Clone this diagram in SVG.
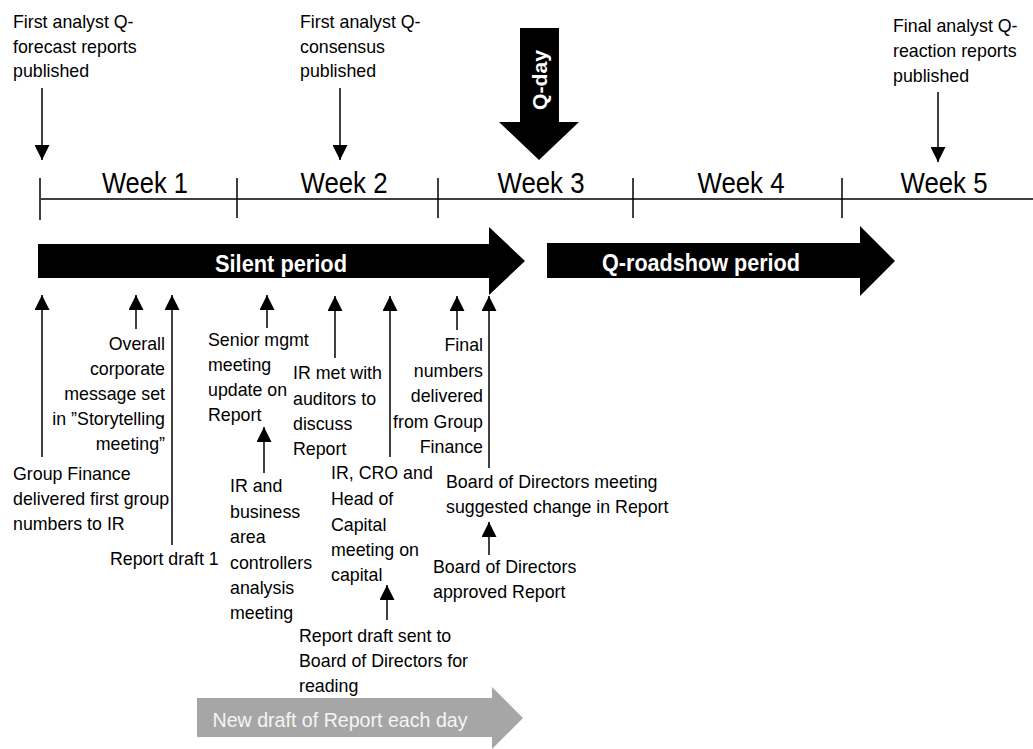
<svg xmlns="http://www.w3.org/2000/svg" width="1033" height="749" viewBox="0 0 1033 749">
<defs>
<marker id="ah" viewBox="0 0 15 15" refX="15" refY="7.5" markerWidth="15" markerHeight="15" markerUnits="userSpaceOnUse" orient="auto">
<path d="M0,0 L15,7.5 L0,15 Z" fill="#000"/>
</marker>
<style>
.t{font-family:"Liberation Sans",Arial,sans-serif;font-size:17.8px;fill:#000}
.e{text-anchor:end}
.wk{font-family:"Liberation Sans",Arial,sans-serif;font-size:29px;fill:#000;text-anchor:middle}
.b{font-family:"Liberation Sans",Arial,sans-serif;font-weight:bold;fill:#fff;text-anchor:middle}
.ln{stroke:#000;stroke-width:1.5;fill:none}
.c{stroke:#000;stroke-width:1.5;fill:none;marker-end:url(#ah)}
</style>
</defs>
<rect width="1033" height="749" fill="#fff"/>

<g id="timeline">
<line class="ln" x1="41" y1="199" x2="1033" y2="199"/>
<line class="ln" x1="40" y1="178" x2="40" y2="220"/>
<line class="ln" x1="237" y1="178" x2="237" y2="218"/>
<line class="ln" x1="438" y1="178" x2="438" y2="218"/>
<line class="ln" x1="633" y1="178" x2="633" y2="218"/>
<line class="ln" x1="842" y1="178" x2="842" y2="218"/>
<text class="wk" x="145" y="193" textLength="86" lengthAdjust="spacingAndGlyphs">Week 1</text>
<text class="wk" x="344" y="193" textLength="87" lengthAdjust="spacingAndGlyphs">Week 2</text>
<text class="wk" x="541" y="193" textLength="87" lengthAdjust="spacingAndGlyphs">Week 3</text>
<text class="wk" x="741" y="193" textLength="87" lengthAdjust="spacingAndGlyphs">Week 4</text>
<text class="wk" x="944" y="193" textLength="87" lengthAdjust="spacingAndGlyphs">Week 5</text>
</g>

<g id="qday">
<polygon points="520,28 559,28 559,122 579,122 539,160 499,122 520,122" fill="#000"/>
<text class="b" transform="translate(547,80) rotate(-90)" x="0" y="0" font-size="21" textLength="60" lengthAdjust="spacingAndGlyphs">Q-day</text>
</g>

<g id="silent">
<polygon points="38,244 489,244 489,227 525,261 489,295 489,278 38,278" fill="#000"/>
<text class="b" x="281" y="272" font-size="23" textLength="132" lengthAdjust="spacingAndGlyphs">Silent period</text>
</g>

<g id="roadshow">
<polygon points="547,243 860,243 860,226 895,261 860,296 860,278 547,278" fill="#000"/>
<text class="b" x="701" y="271" font-size="23" textLength="198" lengthAdjust="spacingAndGlyphs">Q-roadshow period</text>
</g>

<g id="newdraft">
<polygon points="197,698 492,698 492,687 523,718 492,749 492,737 197,737" fill="#a6a6a6"/>
<text x="340" y="727" font-family="Liberation Sans, Arial, sans-serif" font-size="21" fill="#f5f5f5" text-anchor="middle" textLength="255" lengthAdjust="spacingAndGlyphs">New draft of Report each day</text>
</g>

<g id="connectors">
<line class="c" x1="42" y1="88" x2="42" y2="160"/>
<line class="c" x1="340" y1="88" x2="340" y2="160"/>
<line class="c" x1="938" y1="92" x2="938" y2="162"/>
<line class="c" x1="42" y1="457" x2="42" y2="295"/>
<line class="c" x1="136" y1="329" x2="136" y2="295"/>
<line class="c" x1="172" y1="545" x2="172" y2="295"/>
<line class="c" x1="267" y1="328" x2="267" y2="295"/>
<line class="c" x1="264" y1="473" x2="264" y2="427"/>
<line class="c" x1="335" y1="358" x2="335" y2="296"/>
<line class="c" x1="390" y1="457" x2="390" y2="296"/>
<line class="c" x1="457" y1="330" x2="457" y2="296"/>
<line class="c" x1="489" y1="468" x2="489" y2="296"/>
<line class="c" x1="489" y1="555" x2="489" y2="522"/>
<line class="c" x1="387" y1="620" x2="387" y2="585"/>
</g>

<g id="n-forecast">
<text class="t"><tspan x="13" y="28">First analyst Q-</tspan><tspan x="13" y="52.5">forecast reports</tspan><tspan x="13" y="77">published</tspan></text>
</g>
<g id="n-consensus">
<text class="t"><tspan x="300" y="28">First analyst Q-</tspan><tspan x="300" y="52.5">consensus</tspan><tspan x="300" y="77">published</tspan></text>
</g>
<g id="n-reaction">
<text class="t"><tspan x="893" y="32">Final analyst Q-</tspan><tspan x="893" y="57">reaction reports</tspan><tspan x="893" y="82">published</tspan></text>
</g>

<g id="n-groupfinance">
<text class="t"><tspan x="13" y="480">Group Finance</tspan><tspan x="13" y="505">delivered first group</tspan><tspan x="13" y="530">numbers to IR</tspan></text>
</g>
<g id="n-storytelling">
<text class="t e"><tspan x="165" y="349.5">Overall</tspan><tspan x="165" y="374.5">corporate</tspan><tspan x="165" y="399.5">message set</tspan><tspan x="165" y="424.5">in ”Storytelling</tspan><tspan x="165" y="449.5">meeting”</tspan></text>
</g>
<g id="n-draft1">
<text class="t"><tspan x="110" y="565">Report draft 1</tspan></text>
</g>
<g id="n-senior">
<text class="t"><tspan x="208" y="346">Senior mgmt</tspan><tspan x="208" y="371">meeting</tspan><tspan x="208" y="396">update on</tspan><tspan x="208" y="421">Report</tspan></text>
</g>
<g id="n-controllers">
<text class="t"><tspan x="230" y="492">IR and</tspan><tspan x="230" y="517.5">business</tspan><tspan x="230" y="543">area</tspan><tspan x="230" y="568.5">controllers</tspan><tspan x="230" y="594">analysis</tspan><tspan x="230" y="619">meeting</tspan></text>
</g>
<g id="n-auditors">
<text class="t"><tspan x="293" y="379">IR met with</tspan><tspan x="293" y="404.5">auditors to</tspan><tspan x="293" y="430">discuss</tspan><tspan x="293" y="455">Report</tspan></text>
</g>
<g id="n-capital">
<text class="t"><tspan x="331" y="479">IR, CRO and</tspan><tspan x="331" y="505">Head of</tspan><tspan x="331" y="530.5">Capital</tspan><tspan x="331" y="556">meeting on</tspan><tspan x="331" y="581">capital</tspan></text>
</g>
<g id="n-finalnumbers">
<text class="t e"><tspan x="483" y="351">Final</tspan><tspan x="483" y="376.5">numbers</tspan><tspan x="483" y="402">delivered</tspan><tspan x="483" y="427.5">from Group</tspan><tspan x="483" y="453">Finance</tspan></text>
</g>
<g id="n-bodmeeting">
<text class="t"><tspan x="446" y="488">Board of Directors meeting</tspan><tspan x="446" y="513">suggested change in Report</tspan></text>
</g>
<g id="n-bodapproved">
<text class="t"><tspan x="433" y="573">Board of Directors</tspan><tspan x="433" y="598">approved Report</tspan></text>
</g>
<g id="n-draftsent">
<text class="t"><tspan x="299" y="642">Report draft sent to</tspan><tspan x="299" y="667">Board of Directors for</tspan><tspan x="299" y="692">reading</tspan></text>
</g>
</svg>
